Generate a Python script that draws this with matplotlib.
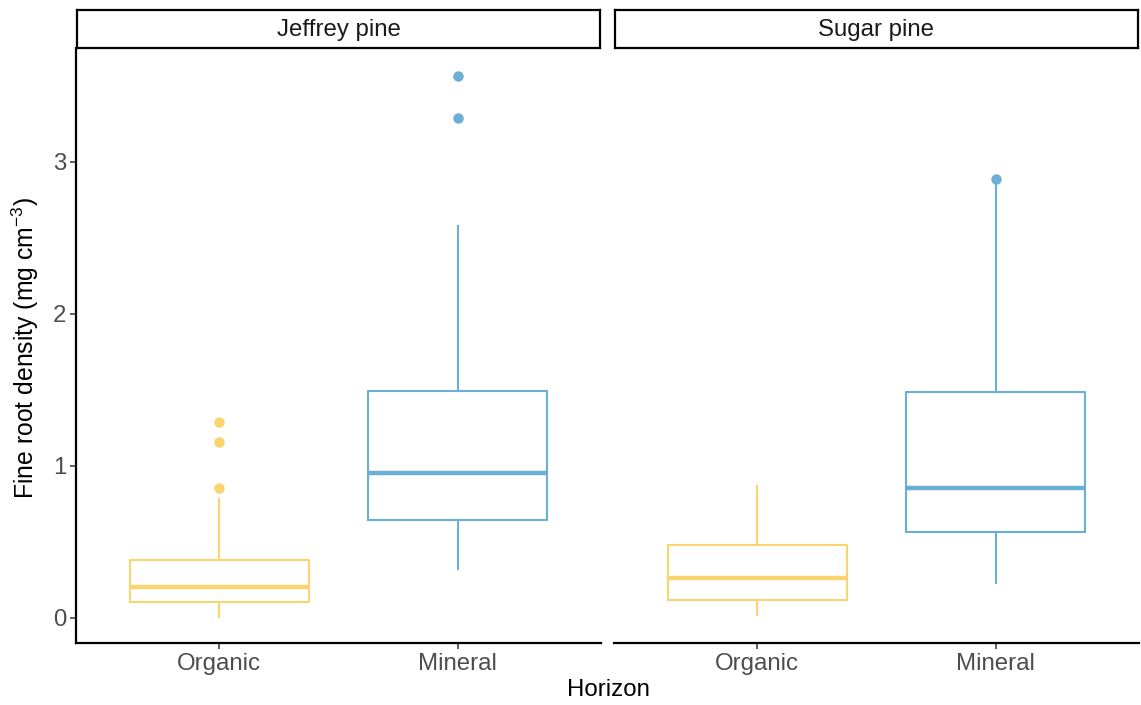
import matplotlib
matplotlib.use("Agg")
import matplotlib.pyplot as plt

plt.rcParams['font.family'] = ['Liberation Sans', 'DejaVu Sans']
plt.rcParams['mathtext.fontset'] = 'custom'
plt.rcParams['mathtext.rm'] = 'Liberation Sans'
plt.rcParams['mathtext.it'] = 'Liberation Sans:italic'

# Facets and horizons
species = ["Jeffrey pine", "Sugar pine"]
horizons = ["Organic", "Mineral"]

# Five-number summaries per species, ordered as in `horizons`
jeffrey_low = [0.007, 0.322]
jeffrey_q1 = [0.105, 0.643]
jeffrey_med = [0.200, 0.950]
jeffrey_q3 = [0.382, 1.489]
jeffrey_high = [0.779, 2.576]
jeffrey_out = [[0.851, 1.158, 1.285], [3.288, 3.562]]

sugar_low = [0.016, 0.226]
sugar_q1 = [0.118, 0.562]
sugar_med = [0.259, 0.853]
sugar_q3 = [0.478, 1.487]
sugar_high = [0.866, 2.860]
sugar_out = [[], [2.884]]

colors = {"Organic": "#F8D56E", "Mineral": "#6BAED6"}

summaries = {
    "Jeffrey pine": (jeffrey_low, jeffrey_q1, jeffrey_med, jeffrey_q3, jeffrey_high, jeffrey_out),
    "Sugar pine": (sugar_low, sugar_q1, sugar_med, sugar_q3, sugar_high, sugar_out),
}

W, H = 1141, 705
fig = plt.figure(figsize=(W / 100, H / 100), dpi=100)

panel_bottom = (H - 643) / H
panel_top = (H - 48) / H
strip_top = (H - 9.5) / H
panel_w = 525 / W
lefts = [76 / W, 614 / W]

tick_grey = "#4D4D4D"
ylim = (-0.167, 3.748)
fs = 17.3

for i, sp in enumerate(species):
    ax = fig.add_axes([lefts[i], panel_bottom, panel_w, panel_top - panel_bottom])
    low, q1, med, q3, high, out = summaries[sp]
    for j, hz in enumerate(horizons):
        stats = [dict(whislo=low[j], q1=q1[j], med=med[j], q3=q3[j],
                      whishi=high[j], fliers=out[j], label=hz)]
        c = colors[hz]
        ax.bxp(stats, positions=[j + 1], widths=0.75, showcaps=False,
               boxprops=dict(color=c, linewidth=1.5),
               whiskerprops=dict(color=c, linewidth=1.5),
               medianprops=dict(color=c, linewidth=3.2, solid_capstyle='butt'),
               flierprops=dict(marker='o', markerfacecolor=c, markeredgecolor=c,
                               markersize=6.5, linestyle='none'),
               manage_ticks=False)
    ax.set_xlim(0.4, 2.6)
    ax.set_ylim(*ylim)
    ax.set_xticks([1, 2])
    ax.set_xticklabels(horizons)
    ax.set_yticks([0, 1, 2, 3])
    ax.tick_params(axis='both', colors='#333333', labelcolor=tick_grey,
                   labelsize=fs, length=4, width=1.1, pad=3)
    for s in ['top', 'right']:
        ax.spines[s].set_visible(False)
    ax.spines['bottom'].set_linewidth(1.6)
    ax.spines['left'].set_linewidth(1.6)
    if i == 1:
        ax.spines['left'].set_visible(False)
        ax.tick_params(axis='y', left=False, labelleft=False)

    # Facet strip
    sax = fig.add_axes([lefts[i] + 1 / W, panel_top, panel_w - 2 / W, strip_top - panel_top])
    sax.set_xticks([])
    sax.set_yticks([])
    for s in sax.spines.values():
        s.set_linewidth(1.6)
        s.set_color('black')
    sax.text(0.5, 0.48, sp, ha='center', va='center', fontsize=fs, color='#1A1A1A',
             transform=sax.transAxes)

fig.text(608 / W, 1 - 690 / H, "Horizon", ha='center', va='center', fontsize=fs, color='black')
fig.text(25 / W, 1 - 348 / H, "Fine root density (mg cm$^{-3}$)",
         rotation=90, ha='center', va='center', fontsize=17.8, color='black')

fig.savefig("out.png", dpi=100)
